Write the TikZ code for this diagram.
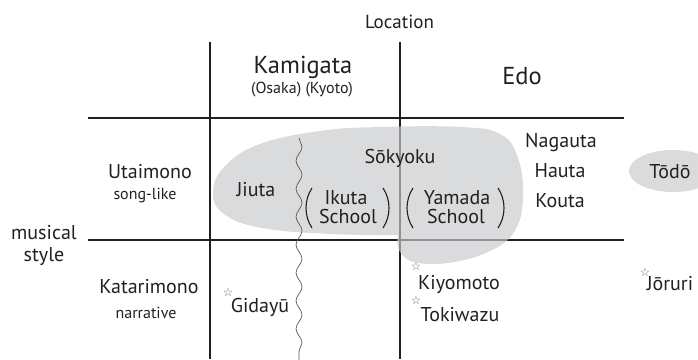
\documentclass[tikz,border=0pt]{standalone}
\usepackage{fontspec}
\setmainfont{PT Sans}
\newfontfamily\symfont{DejaVu Sans}
\usetikzlibrary{decorations.pathmorphing}
\definecolor{ink}{RGB}{35,31,32}
\definecolor{blobgray}{RGB}{200,201,205}
\tikzset{
  lbl/.style={font=\fontsize{20}{22}\selectfont, text=ink, anchor=base, inner sep=0pt},
  biglbl/.style={font=\fontsize{24.5}{26}\selectfont, text=ink, anchor=base, inner sep=0pt},
  smalllbl/.style={font=\fontsize{16}{18}\selectfont, text=ink, anchor=base, inner sep=0pt},
  loclbl/.style={font=\fontsize{19}{21}\selectfont, text=ink, anchor=base, inner sep=0pt},
  starmark/.style={font=\symfont\fontsize{11.5}{12}\selectfont, text=black!60, anchor=center, inner sep=0pt},
  gridline/.style={draw=ink, line width=1.1pt},
  blobfill/.style={fill=blobgray, fill opacity=0.67},
  parenline/.style={draw=ink, line width=1.1pt},
  wavy/.style={draw=black!65, line width=0.7pt, decorate, decoration={snake, segment length=28pt, amplitude=3pt}}
}
\begin{document}
\begin{tikzpicture}[x=1pt,y=-1pt]
\useasboundingbox (0,0) rectangle (698,359);
\clip (0,0) rectangle (698,359);
% grid
\coordinate (v1t) at (210,42);  \coordinate (v1b) at (210,359);
\coordinate (v2t) at (400,42);  \coordinate (v2b) at (400,359);
\coordinate (h1l) at (88,118);  \coordinate (h1r) at (624,118);
\coordinate (h2l) at (88,240);  \coordinate (h2r) at (624,240);
\draw[gridline] (v1t) -- (v1b);
\draw[gridline] (v2t) -- (v2b);
\draw[gridline] (h1l) -- (h1r);
\draw[gridline] (h2l) -- (h2r);
% blob
\fill[blobfill] plot[smooth, tension=0.7] coordinates {(398,235) (330,234) (262,228) (224,214) (213,192) (225,166) (260,144) (320,131) (380,127) (460,127) (500,134) (518,158) (523,198) (514,232) (488,252) (448,263) (414,262) (399,250) (398,235)} -- cycle;
% Todo ellipse
\fill[blobfill] (673,171) ellipse [x radius=44, y radius=21];
% wavy line
\coordinate (wt) at (299,138);
\coordinate (wb) at (299,362);
\draw[wavy] (wt) -- (wb);
% parentheses
\draw[parenline] (312,188) .. controls (304,200) and (304,216) .. (312,228);
\draw[parenline] (383,188) .. controls (391,200) and (391,216) .. (383,228);
\draw[parenline] (413,188) .. controls (405,200) and (405,216) .. (413,228);
\draw[parenline] (498,188) .. controls (506,200) and (506,216) .. (498,228);
% header texts
\node[loclbl] (loc) at (399.5,28) {Location};
\node[biglbl] (kami) at (303,73) {Kamigata};
\node[smalllbl] (osaka) at (302,93) {(Osaka) (Kyoto)};
\node[biglbl] (edo) at (522,84) {Edo};
% row labels
\node[lbl] (utai) at (150,178) {Utaimono};
\node[smalllbl] (song) at (145,199) {song-like};
\node[lbl] (mus) at (44,239) {musical};
\node[lbl] (sty) at (44,261) {style};
\node[lbl] (kata) at (149,293) {Katarimono};
\node[smalllbl] (narr) at (146,318) {narrative};
% cells
\node[lbl] (jiuta) at (256,196) {Jiuta};
\node[lbl] (soky) at (400,163) {Sōkyoku};
\node[lbl] (ikuta) at (346,204) {Ikuta};
\node[lbl] (ikschool) at (348,223) {School};
\node[lbl] (yamada) at (457,204) {Yamada};
\node[lbl] (yaschool) at (456,223) {School};
\node[lbl] (naga) at (561,147) {Nagauta};
\node[lbl] (hauta) at (560,177) {Hauta};
\node[lbl] (kouta) at (560,207) {Kouta};
\node[lbl] (todo) at (670,178) {Tōdō};
\node[lbl] (gida) at (260,312) {Gidayū};
\node[lbl] (kiyo) at (459,289) {Kiyomoto};
\node[lbl] (toki) at (460,321) {Tokiwazu};
\node[lbl] (joru) at (670,290) {Jōruri};
% stars
\node[starmark] (s1) at (228,292) {☆};
\node[starmark] (s2) at (416,266) {☆};
\node[starmark] (s3) at (416,300) {☆};
\node[starmark] (s4) at (645,272) {☆};
\end{tikzpicture}
\end{document}
